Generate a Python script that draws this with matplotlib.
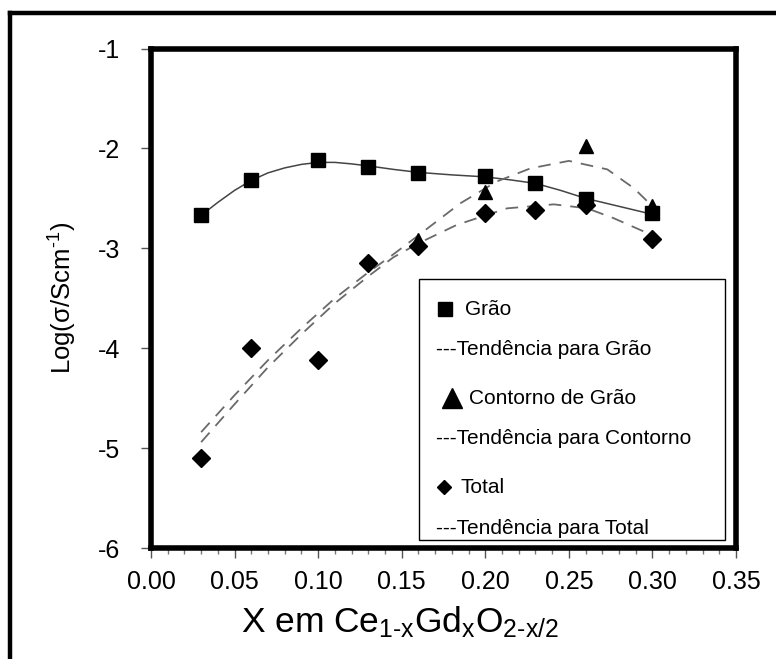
import numpy as np
import matplotlib
matplotlib.use('Agg')
import matplotlib.pyplot as plt
from matplotlib.lines import Line2D
from matplotlib.patches import Rectangle
from matplotlib.ticker import MultipleLocator

plt.rcParams['font.family'] = ['Liberation Sans', 'DejaVu Sans']
plt.rcParams['mathtext.fontset'] = 'custom'
plt.rcParams['mathtext.rm'] = 'Liberation Sans'
plt.rcParams['mathtext.it'] = 'Liberation Sans'
plt.rcParams['axes.unicode_minus'] = False

# ================================
# data
# ================================
x_grao = [0.03, 0.06, 0.10, 0.13, 0.16, 0.20, 0.23, 0.26, 0.30]
y_grao = [-2.67, -2.32, -2.12, -2.19, -2.25, -2.28, -2.35, -2.51, -2.65]

x_contorno = [0.16, 0.20, 0.26, 0.30]
y_contorno = [-2.92, -2.44, -1.98, -2.58]

x_total = [0.03, 0.06, 0.10, 0.13, 0.16, 0.20, 0.23, 0.26, 0.30]
y_total = [-5.10, -4.00, -4.12, -3.15, -2.98, -2.65, -2.62, -2.57, -2.91]

# trend curves
tx_grao = [0.03, 0.04, 0.05, 0.06, 0.07, 0.08, 0.09, 0.10, 0.11, 0.12, 0.13,
           0.145, 0.16, 0.18, 0.20, 0.215, 0.23, 0.245, 0.26, 0.28, 0.30]
ty_grao = [-2.67, -2.54, -2.42, -2.32, -2.245, -2.195, -2.16, -2.14, -2.14,
           -2.155, -2.175, -2.21, -2.24, -2.265, -2.285, -2.315, -2.35, -2.42,
           -2.50, -2.58, -2.66]

tx_contorno = [0.03, 0.05, 0.07, 0.09, 0.11, 0.13, 0.145, 0.16, 0.185, 0.207,
               0.227, 0.25, 0.273, 0.289, 0.30]
ty_contorno = [-4.84, -4.47, -4.12, -3.80, -3.50, -3.24, -3.06, -2.87, -2.55,
               -2.33, -2.20, -2.125, -2.21, -2.40, -2.58]

tx_total = [0.03, 0.05, 0.07, 0.09, 0.11, 0.13, 0.145, 0.16, 0.183, 0.213,
            0.241, 0.261, 0.277, 0.30]
ty_total = [-4.94, -4.56, -4.19, -3.86, -3.55, -3.28, -3.09, -2.95, -2.765,
            -2.60, -2.56, -2.60, -2.70, -2.87]

xticks = [0.00, 0.05, 0.10, 0.15, 0.20, 0.25, 0.30, 0.35]
yticks = [-6, -5, -4, -3, -2, -1]

legend_labels = ['Grão', '---Tendência para Grão', 'Contorno de Grão',
                 '---Tendência para Contorno', 'Total', '---Tendência para Total']

HY = '\u2010'  # plain hyphen inside the subscripts

# ================================
# figure
# ================================
fig = plt.figure(figsize=(7.76, 6.59), dpi=100)
ax = fig.add_axes([0.1946, 0.1684, 0.7539, 0.758])

# outer frame (cut off at right / bottom)
fig.add_artist(Line2D([0.0135, 0.0135], [0.0, 0.981], transform=fig.transFigure,
                      color='k', lw=3.2))
fig.add_artist(Line2D([0.0135, 1.0], [0.981, 0.981], transform=fig.transFigure,
                      color='k', lw=3.2))

ax.plot(tx_grao, ty_grao, '-', color='#444444', lw=1.1)
ax.plot(tx_contorno, ty_contorno, color='#6a6a6a', lw=1.3, dashes=(7, 5))
ax.plot(tx_total, ty_total, color='#6a6a6a', lw=1.3, dashes=(7, 5))

ax.plot(x_total, y_total, 'D', color='k', ms=9, ls='none')
ax.plot(x_contorno, y_contorno, '^', color='k', ms=10, ls='none')
ax.plot(x_grao, y_grao, 's', color='k', ms=9.5, ls='none')

ax.set_xlim(0, 0.35)
ax.set_ylim(-6, -1)
ax.set_xticks(xticks)
ax.set_xticklabels([f'{v:.2f}' for v in xticks])
ax.set_yticks(yticks)
ax.set_yticklabels([str(v) for v in yticks])
ax.xaxis.set_minor_locator(MultipleLocator(0.01))
ax.tick_params(axis='both', which='major', direction='out', length=7,
               width=1, color='#555555', labelsize=18)
ax.tick_params(axis='x', which='major', pad=9)
ax.tick_params(axis='y', which='major', pad=15)
ax.tick_params(axis='x', which='minor', direction='out', length=4,
               width=1, color='#777777')
for s in ax.spines.values():
    s.set_linewidth(4)

fig.text(400 / 776, 1 - 632 / 659,
         r'X em Ce$_{\mathrm{1' + HY + r'x}}$Gd$_{\mathrm{x}}$O$_{\mathrm{2' + HY + r'x/2}}$',
         fontsize=25.5, ha='center', va='baseline')
fig.text(63 / 776, 1 - 298 / 659, r'Log(σ/Scm$^{\mathrm{' + HY + r'1}}$)',
         fontsize=18.5, rotation=90, ha='center', va='center')

# legend drawn by hand
ax.add_patch(Rectangle((0.458, 0.016), 0.523, 0.5225, transform=ax.transAxes,
                       facecolor='white', edgecolor='k', lw=1, zorder=5))
leg_y = [0.4785, 0.398, 0.300, 0.220, 0.122, 0.040]
leg_x = [0.537, 0.487, 0.5436, 0.487, 0.529, 0.487]
ax.plot([0.5026], [leg_y[0]], 's', color='k', ms=10, transform=ax.transAxes, zorder=6)
ax.plot([0.514], [leg_y[2]], '^', color='k', ms=15, transform=ax.transAxes, zorder=6)
ax.plot([0.501], [leg_y[4]], 'D', color='k', ms=7, transform=ax.transAxes, zorder=6)
for lab, lx, ly in zip(legend_labels, leg_x, leg_y):
    ax.text(lx, ly, lab, transform=ax.transAxes, fontsize=15,
            ha='left', va='center', zorder=6)

fig.savefig('out.png', dpi=100)
